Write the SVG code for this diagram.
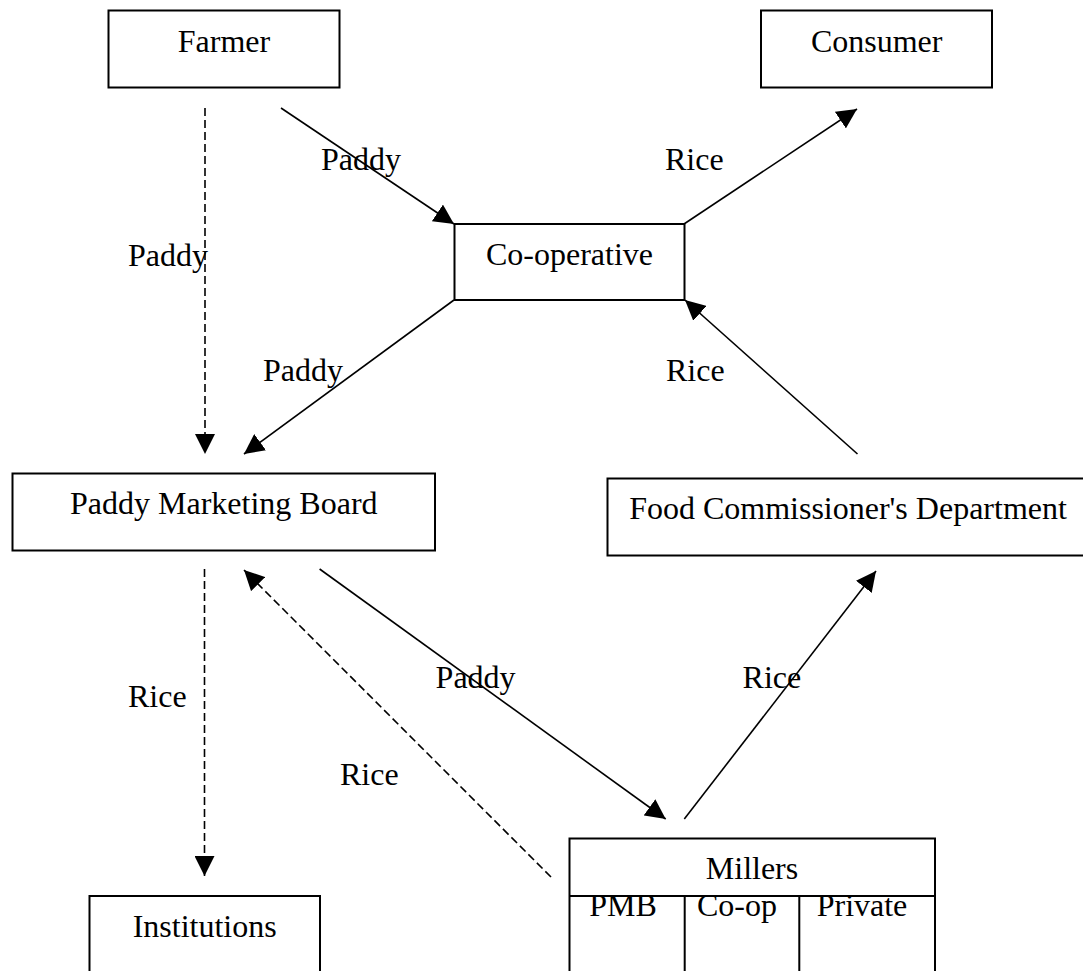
<svg xmlns="http://www.w3.org/2000/svg" width="1083" height="971" viewBox="0 0 1083 971">
  <style>
    .box { fill: #fff; stroke: #000; stroke-width: 2; }
    .div { fill: none; stroke: #000; stroke-width: 2; }
    .lbl { font-family: "Liberation Serif", "Times New Roman", serif; font-size: 32px; fill: #000; }
    .mid { text-anchor: middle; }
    .flow { fill: none; stroke: #000; stroke-width: 1.6; marker-end: url(#head); }
    .dash { stroke-dasharray: 8 4; }
  </style>
  <defs>
    <marker id="head" markerUnits="userSpaceOnUse" viewBox="0 0 20 20" markerWidth="20" markerHeight="20" refX="20" refY="10" orient="auto">
      <path d="M0,0 L20,10 L0,20 Z" fill="#000"/>
    </marker>
  </defs>
  <rect width="1083" height="971" fill="#fff"/>

  <!-- flows between the actors -->
  <g id="connectors">
    <line class="flow" x1="281" y1="108" x2="454" y2="224"/>
    <line class="flow" x1="684" y1="224" x2="857" y2="109"/>
    <line class="flow" x1="454" y1="300" x2="244" y2="454"/>
    <line class="flow" x1="857.5" y1="454" x2="685" y2="300"/>
    <line class="flow dash" x1="205" y1="108" x2="205" y2="454"/>
    <line class="flow dash" x1="204.5" y1="569" x2="204.5" y2="876"/>
    <line class="flow dash" x1="551" y1="877" x2="244" y2="570"/>
    <line class="flow" x1="319.6" y1="569" x2="665.7" y2="819"/>
    <line class="flow" x1="684.3" y1="819" x2="876" y2="571"/>

    <text class="lbl" x="321" y="170">Paddy</text>
    <text class="lbl" x="665" y="170">Rice</text>
    <text class="lbl" x="128" y="266">Paddy</text>
    <text class="lbl" x="263" y="381">Paddy</text>
    <text class="lbl" x="666" y="381">Rice</text>
    <text class="lbl" x="128" y="707">Rice</text>
    <text class="lbl" x="435.6" y="688">Paddy</text>
    <text class="lbl" x="742.6" y="688">Rice</text>
    <text class="lbl" x="340" y="785">Rice</text>
  </g>

  <g id="farmer">
    <rect class="box" x="108.5" y="10.5" width="231" height="77"/>
    <text class="lbl mid" x="224" y="52">Farmer</text>
  </g>

  <g id="consumer">
    <rect class="box" x="761" y="10.5" width="231" height="77"/>
    <text class="lbl mid" x="876.7" y="52">Consumer</text>
  </g>

  <g id="cooperative">
    <rect class="box" x="454.5" y="224" width="230" height="76"/>
    <text class="lbl mid" x="569.5" y="264.5">Co-operative</text>
  </g>

  <g id="paddy-marketing-board">
    <rect class="box" x="12.5" y="473.5" width="422.5" height="77"/>
    <text class="lbl mid" x="223.8" y="513.5">Paddy Marketing Board</text>
  </g>

  <g id="food-commissioner">
    <rect class="box" x="607.5" y="478.5" width="482" height="77"/>
    <text class="lbl mid" x="848" y="518.5">Food Commissioner's Department</text>
  </g>

  <g id="institutions">
    <rect class="box" x="89.5" y="896" width="230.5" height="120"/>
    <text class="lbl mid" x="204.7" y="937">Institutions</text>
  </g>

  <g id="millers">
    <rect class="box" x="569.5" y="838.5" width="365.5" height="180"/>
    <path class="div" d="M569.5,896 H935 M684.7,896 V1020 M799.3,896 V1020"/>
    <text class="lbl mid" x="752" y="879">Millers</text>
    <text class="lbl mid" x="623" y="916">PMB</text>
    <text class="lbl mid" x="737" y="916">Co-op</text>
    <text class="lbl mid" x="862" y="916">Private</text>
  </g>
</svg>
